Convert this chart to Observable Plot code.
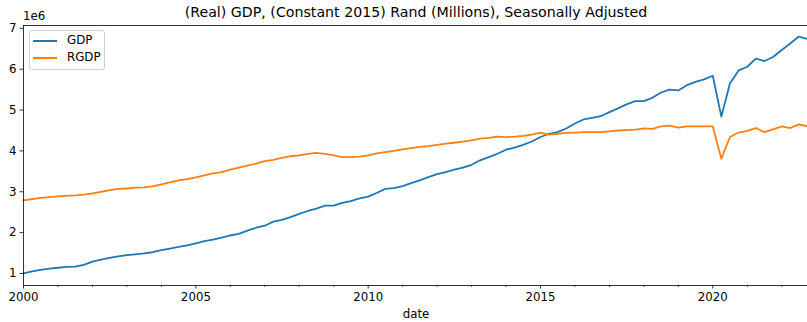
<!DOCTYPE html>
<html>
<head>
<meta charset="utf-8">
<script src="https://cdn.jsdelivr.net/npm/d3@7"></script>
<script src="https://cdn.jsdelivr.net/npm/@observablehq/plot@0.6"></script>
<style>
  html, body { margin: 0; padding: 0; background: #fff; }
  #wrap { position: relative; width: 807px; height: 322px; font-family: "DejaVu Sans", sans-serif; color: #000; }
  #wrap svg { position: absolute; left: 0; top: 0; }
  .ov { position: absolute; white-space: nowrap; line-height: 1; }
  #title { left: 0; width: 832px; text-align: center; top: 5px; font-size: 14.2px; }
  #offset { left: 23px; top: 11px; font-size: 11.8px; }
  #xlabel { left: 0; width: 832px; text-align: center; top: 309px; font-size: 11.8px; }
  #legend { left: 29px; top: 30px; width: 74px; height: 38px; border: 1px solid #d0d0d0; border-radius: 3px; background: rgba(255,255,255,0.8); font-size: 11.8px; }
  .lg { position: absolute; left: 0; height: 14px; }
  .lg .sw { position: absolute; left: 3px; top: 6px; width: 24px; height: 2px; }
  .lg .tx { position: absolute; left: 37px; top: 1px; }
</style>
</head>
<body>
<div id="wrap">
  <div id="chart"></div>
  <div class="ov" id="title"></div>
  <div class="ov" id="offset"></div>
  <div class="ov" id="xlabel"></div>
  <div class="ov" id="legend"></div>
</div>
<script>
// ---- data (quarterly, starting 2000 Q1; values in units of 1e6 Rand millions) ----
const titleText = "(Real) GDP, (Constant 2015) Rand (Millions), Seasonally Adjusted";
const xLabelText = "date";
const offsetText = "1e6";
const startYear = 2000;
const seriesNames = ["GDP", "RGDP"];
const seriesColors = ["#1f77b4", "#ff7f0e"];
const unit = 1e6;

const gdp = [
  1.00, 1.05, 1.09, 1.12,
  1.14, 1.16, 1.17, 1.21,
  1.29, 1.34, 1.38, 1.42,
  1.45, 1.47, 1.49, 1.52,
  1.57, 1.61, 1.65, 1.69,
  1.74, 1.79, 1.83, 1.88,
  1.93, 1.97, 2.05, 2.12,
  2.17, 2.27, 2.31, 2.38,
  2.46, 2.53, 2.59, 2.66,
  2.66, 2.73, 2.77, 2.84,
  2.88, 2.97, 3.07, 3.09,
  3.14, 3.21, 3.28, 3.36,
  3.43, 3.48, 3.54, 3.59,
  3.66, 3.77, 3.85, 3.93,
  4.03, 4.08, 4.15, 4.23,
  4.34, 4.42, 4.46, 4.55,
  4.67, 4.77, 4.81, 4.85,
  4.95, 5.04, 5.14, 5.22,
  5.22, 5.30, 5.43, 5.50,
  5.48, 5.61, 5.69, 5.75,
  5.84, 4.84, 5.65, 5.97,
  6.06, 6.26, 6.20, 6.30,
  6.47, 6.63, 6.80, 6.74
];
const rgdp = [
  2.79, 2.82, 2.85, 2.87,
  2.89, 2.90, 2.91, 2.93,
  2.96, 3.00, 3.04, 3.07,
  3.08, 3.10, 3.11, 3.13,
  3.18, 3.23, 3.28, 3.31,
  3.35, 3.40, 3.45, 3.48,
  3.54, 3.59, 3.64, 3.69,
  3.75, 3.78, 3.83, 3.87,
  3.89, 3.93, 3.95, 3.93,
  3.89, 3.85, 3.85, 3.86,
  3.89, 3.94, 3.97, 4.00,
  4.04, 4.07, 4.10, 4.12,
  4.15, 4.18, 4.20, 4.23,
  4.26, 4.30, 4.32, 4.35,
  4.34, 4.35, 4.37, 4.40,
  4.45, 4.40, 4.42, 4.44,
  4.45, 4.46, 4.46, 4.46,
  4.48, 4.50, 4.51, 4.52,
  4.55, 4.54, 4.60, 4.62,
  4.57, 4.60, 4.60, 4.60,
  4.60, 3.81, 4.34, 4.45,
  4.49, 4.56, 4.46, 4.53,
  4.60, 4.56, 4.65, 4.60
];
const yTicks = [1, 2, 3, 4, 5, 6, 7];
const xMajorYears = [2000, 2005, 2010, 2015, 2020];
const yDomain = [0.706, 7.07];

// ---- build table ----
const qDate = i => new Date(Date.UTC(startYear + Math.floor(i / 4), (i % 4) * 3, 1));
const rows = [];
[gdp, rgdp].forEach((arr, s) => arr.forEach((v, i) => rows.push({date: qDate(i), value: v * unit, series: seriesNames[s]})));
const xDomain = [qDate(0), qDate(gdp.length - 1)];
const minorYears = d3.range(startYear, 2023);
const yr = y => new Date(Date.UTC(y, 0, 1));

const font = "DejaVu Sans";
const chart = Plot.plot({
  width: 807,
  height: 322,
  marginLeft: 23,
  marginRight: 0,
  marginTop: 25,
  marginBottom: 37,
  style: {fontFamily: font, fontSize: "11.8px", color: "#000", background: "transparent", overflow: "visible"},
  x: {type: "utc", domain: xDomain},
  y: {domain: yDomain.map(v => v * unit)},
  color: {domain: seriesNames, range: seriesColors},
  marks: [
    Plot.axisY(yTicks.map(v => v * unit), {tickSize: 3.5, tickPadding: 3.5, tickFormat: d => String(d / unit), label: null, stroke: "#000", strokeWidth: 0.8, fill: "#000", fontSize: 11.8}),
    Plot.axisX(xMajorYears.map(yr), {tickSize: 3.5, tickPadding: 3.5, tickFormat: d => String(d.getUTCFullYear()), label: null, stroke: "#000", strokeWidth: 0.8, fill: "#000", fontSize: 11.8}),
    Plot.axisX(minorYears.filter(y => !xMajorYears.includes(y)).map(yr), {tickSize: 2, text: null, label: null, stroke: "#000", strokeWidth: 0.6}),
    Plot.lineY(rows, {x: "date", y: "value", stroke: "series", z: "series", strokeWidth: 1.8, strokeLinejoin: "round", strokeLinecap: "square"}),
    Plot.ruleX([xDomain[0]], {stroke: "#000", strokeWidth: 0.8}),
    Plot.ruleY([yDomain[0] * unit, yDomain[1] * unit], {stroke: "#000", strokeWidth: 0.8})
  ]
});
document.getElementById("chart").appendChild(chart);

document.getElementById("title").textContent = titleText;
document.getElementById("offset").textContent = offsetText;
document.getElementById("xlabel").textContent = xLabelText;
const legend = document.getElementById("legend");
seriesNames.forEach((name, i) => {
  const row = document.createElement("div");
  row.className = "lg";
  row.style.top = (3 + i * 17) + "px";
  row.style.width = "100%";
  const sw = document.createElement("div");
  sw.className = "sw";
  sw.style.background = seriesColors[i];
  const tx = document.createElement("div");
  tx.className = "tx";
  tx.textContent = name;
  row.appendChild(sw); row.appendChild(tx);
  legend.appendChild(row);
});
</script>
</body>
</html>
